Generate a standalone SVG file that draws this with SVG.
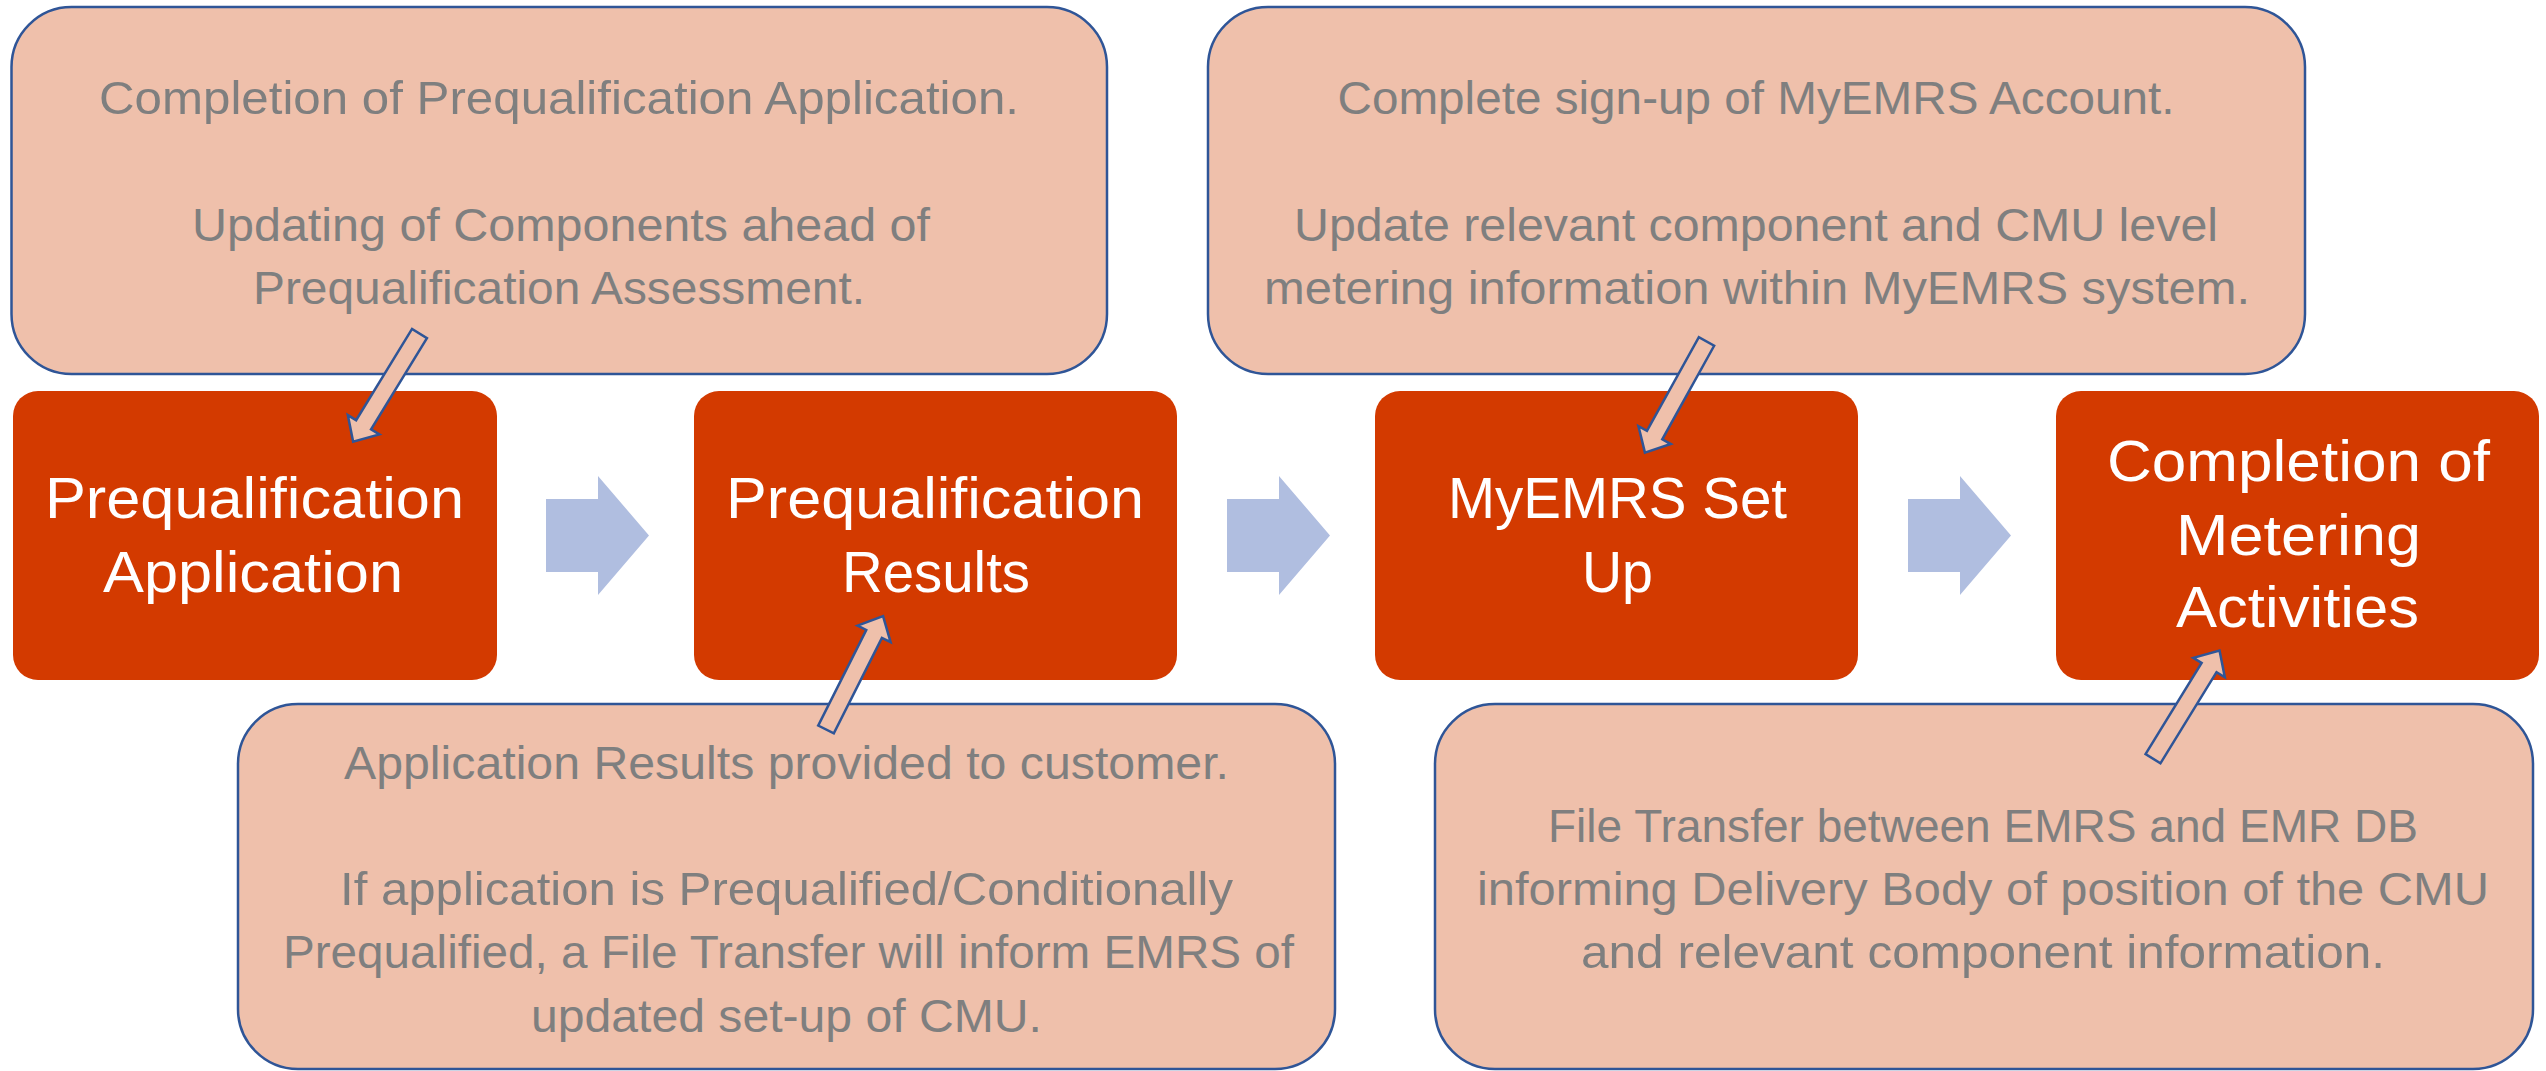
<svg xmlns="http://www.w3.org/2000/svg" width="2546" height="1071" viewBox="0 0 2546 1071">
<defs>
<style>
.callout{fill:#EFC0AB;stroke:#2F5597;stroke-width:2.5}
.step{fill:#D33A00}
.ct{font-family:"Liberation Sans",Arial,sans-serif;font-size:47px;fill:#7F7F7F;text-anchor:middle}
.st{font-family:"Liberation Sans",Arial,sans-serif;font-size:57px;fill:#FFFFFF;text-anchor:middle}
.chev{fill:#B0BEE0}
.ptr{fill:#EFC0AB;stroke:#2F5597;stroke-width:2.5;stroke-linejoin:miter}
</style>
<path id="ptrShape" d="M0,-8.75 H107 V-18.5 L127,0 L107,18.5 V8.75 H0 Z"/>
<path id="chevShape" d="M0,23 H52 V0 L103,59.5 L52,119 V96 H0 Z"/>
</defs>
<rect width="2546" height="1071" fill="#FFFFFF"/>

<g id="callout-prequal-app">
<rect class="callout" x="11.5" y="7" width="1095.5" height="367" rx="60" ry="60"/>
<text class="ct" x="559" y="114" textLength="920" lengthAdjust="spacingAndGlyphs">Completion of Prequalification Application.</text>
<text class="ct" x="561" y="241" textLength="738" lengthAdjust="spacingAndGlyphs">Updating of Components ahead of</text>
<text class="ct" x="559" y="304" textLength="612" lengthAdjust="spacingAndGlyphs">Prequalification Assessment.</text>
</g>

<g id="callout-myemrs">
<rect class="callout" x="1208" y="7" width="1097" height="367" rx="60" ry="60"/>
<text class="ct" x="1756" y="114" textLength="837" lengthAdjust="spacingAndGlyphs">Complete sign-up of MyEMRS Account.</text>
<text class="ct" x="1756" y="241" textLength="924" lengthAdjust="spacingAndGlyphs">Update relevant component and CMU level</text>
<text class="ct" x="1757" y="304" textLength="986" lengthAdjust="spacingAndGlyphs">metering information within MyEMRS system.</text>
</g>

<g id="callout-results">
<rect class="callout" x="238" y="704" width="1097" height="365" rx="60" ry="60"/>
<text class="ct" x="786.5" y="779" textLength="885" lengthAdjust="spacingAndGlyphs">Application Results provided to customer.</text>
<text class="ct" x="786.5" y="905" textLength="893" lengthAdjust="spacingAndGlyphs">If application is Prequalified/Conditionally</text>
<text class="ct" x="788.5" y="968" textLength="1011" lengthAdjust="spacingAndGlyphs">Prequalified, a File Transfer will inform EMRS of</text>
<text class="ct" x="786.5" y="1032" textLength="511" lengthAdjust="spacingAndGlyphs">updated set-up of CMU.</text>
</g>

<g id="callout-metering">
<rect class="callout" x="1435" y="704" width="1098" height="365" rx="60" ry="60"/>
<text class="ct" x="1983" y="842" textLength="870" lengthAdjust="spacingAndGlyphs">File Transfer between EMRS and EMR DB</text>
<text class="ct" x="1983" y="905" textLength="1012" lengthAdjust="spacingAndGlyphs">informing Delivery Body of position of the CMU</text>
<text class="ct" x="1983" y="968" textLength="804" lengthAdjust="spacingAndGlyphs">and relevant component information.</text>
</g>

<g id="step-prequal-application">
<rect class="step" x="13" y="391" width="484" height="289" rx="25" ry="25"/>
<text class="st" x="254.5" y="518" textLength="419" lengthAdjust="spacingAndGlyphs">Prequalification</text>
<text class="st" x="253" y="592" textLength="300" lengthAdjust="spacingAndGlyphs">Application</text>
</g>

<g id="step-prequal-results">
<rect class="step" x="694" y="391" width="483" height="289" rx="25" ry="25"/>
<text class="st" x="935" y="518" textLength="418" lengthAdjust="spacingAndGlyphs">Prequalification</text>
<text class="st" x="936" y="592" textLength="188" lengthAdjust="spacingAndGlyphs">Results</text>
</g>

<g id="step-myemrs-setup">
<rect class="step" x="1375" y="391" width="483" height="289" rx="25" ry="25"/>
<text class="st" x="1617.5" y="518" textLength="339" lengthAdjust="spacingAndGlyphs">MyEMRS Set</text>
<text class="st" x="1617.5" y="592" textLength="71" lengthAdjust="spacingAndGlyphs">Up</text>
</g>

<g id="step-metering">
<rect class="step" x="2056" y="391" width="483" height="289" rx="25" ry="25"/>
<text class="st" x="2298.5" y="481" textLength="383" lengthAdjust="spacingAndGlyphs">Completion of</text>
<text class="st" x="2298.5" y="555" textLength="245" lengthAdjust="spacingAndGlyphs">Metering</text>
<text class="st" x="2297.5" y="627" textLength="243" lengthAdjust="spacingAndGlyphs">Activities</text>
</g>

<g id="connectors">
<use href="#chevShape" class="chev" x="546" y="476"/>
<use href="#chevShape" class="chev" x="1227" y="476"/>
<use href="#chevShape" class="chev" x="1908" y="476"/>
<use href="#ptrShape" class="ptr" transform="translate(419.5,333.5) rotate(121.5)"/>
<use href="#ptrShape" class="ptr" transform="translate(826,729.5) rotate(-63.3)"/>
<use href="#ptrShape" class="ptr" transform="translate(1706.5,341.5) rotate(119)"/>
<use href="#ptrShape" class="ptr" transform="translate(2153,758.7) rotate(-58.4)"/>
</g>
</svg>
